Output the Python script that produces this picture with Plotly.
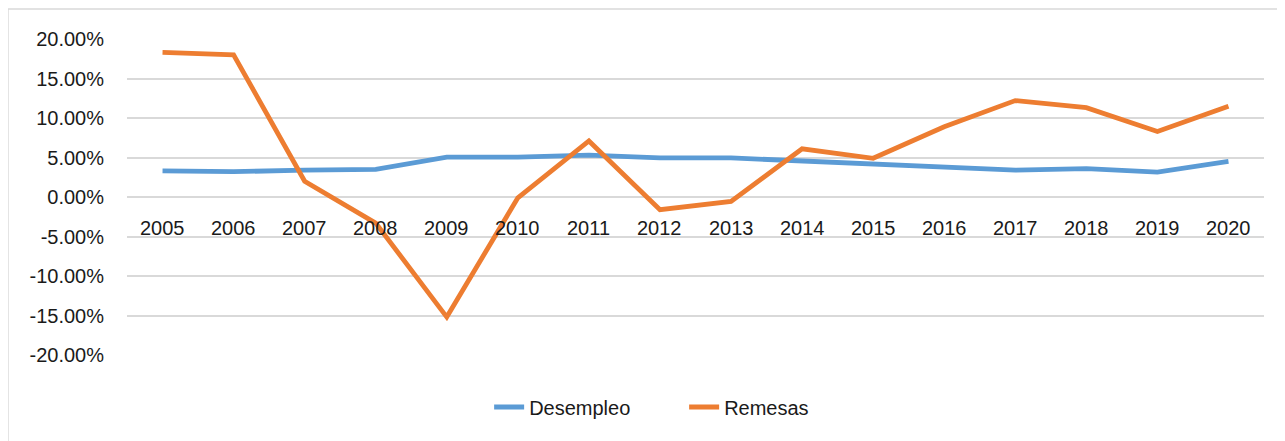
import plotly.graph_objects as go

years = [str(y) for y in range(2005, 2021)]
desempleo = [3.3, 3.2, 3.4, 3.5, 5.05, 5.05, 5.3, 4.95, 4.95, 4.6, 4.2, 3.9, 3.4, 3.6, 3.15, 4.5]
remesas = [18.3, 18.0, 2.0, -3.3, -15.2, -0.1, 7.1, -1.6, -0.55, 6.1, 4.9, 8.9, 12.2, 11.3, 8.3, 11.5]

y_ticks = [20, 15, 10, 5, 0, -5, -10, -15, -20]

font = 'Liberation Sans'
txt = '#1a1a1a'

fig = go.Figure()
fig.add_trace(go.Scatter(x=years, y=desempleo, name='Desempleo', mode='lines',
                         line=dict(color='#5b9bd5', width=4.8)))
fig.add_trace(go.Scatter(x=years, y=remesas, name='Remesas', mode='lines',
                         line=dict(color='#ed7d31', width=4.8)))

# year labels sit on the zero line, like the Excel chart
for i, yr in enumerate(years):
    fig.add_annotation(x=i, y=0, xref='x', yref='y', text=yr, showarrow=False,
                       yanchor='middle', yshift=-31,
                       font=dict(family=font, size=20, color=txt))

# chart area border (only top and left edges are visible in the crop)
fig.add_shape(type='line', xref='paper', yref='paper', x0=-0.1047, x1=1.1, y0=1.0949, y1=1.0949,
              line=dict(color='#d9d9d9', width=1.5))
fig.add_shape(type='line', xref='paper', yref='paper', x0=-0.1047, x1=-0.1047, y0=1.0949, y1=-0.5,
              line=dict(color='#d9d9d9', width=1.5))

fig.update_layout(
    width=1285, height=441,
    margin=dict(l=119, r=29, t=31, b=94),
    plot_bgcolor='white', paper_bgcolor='white',
    font=dict(family=font, size=20, color=txt),
    showlegend=True,
    legend=dict(orientation='h', x=0.49, y=-0.1646, xanchor='center', yanchor='middle',
                font=dict(family=font, size=20, color=txt), entrywidth=150),
    xaxis=dict(type='category', showticklabels=False, showgrid=False, zeroline=False,
               range=[-0.5, len(years) - 0.5]),
    yaxis=dict(range=[-20, 20], tickvals=y_ticks,
               ticktext=[f'{v:.2f}%' for v in y_ticks],
               showgrid=True, gridcolor='#d9d9d9', gridwidth=1.5,
               zeroline=False, ticklabelstandoff=22,
               tickfont=dict(family=font, size=20, color=txt)),
)

fig.write_html("out.html")
